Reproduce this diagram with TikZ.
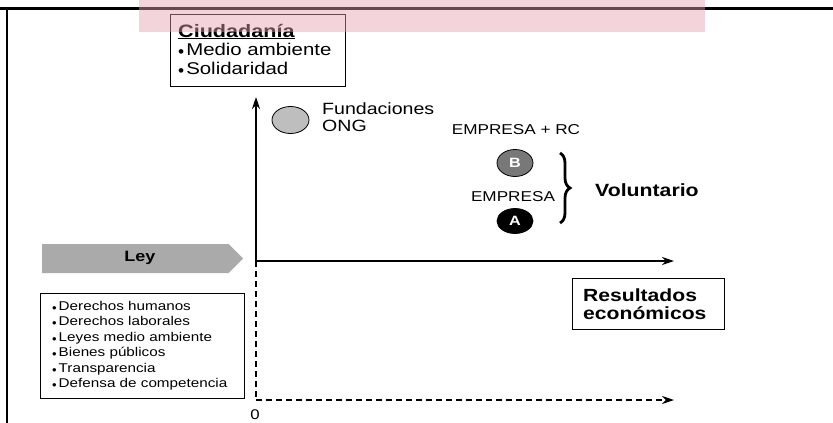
\documentclass[tikz,border=0pt]{standalone}
\usepackage{fontspec}
\setmainfont[FakeStretch=1.2]{Liberation Sans}
\usepackage{graphicx}
\usetikzlibrary{arrows.meta,shapes.arrows,shapes.geometric,decorations.pathreplacing}
\definecolor{bandpink}{RGB}{226,160,172}
\definecolor{leygray}{RGB}{170,170,170}
\definecolor{fundgray}{RGB}{190,190,190}
\definecolor{bgray}{RGB}{120,120,120}
\newcommand{\bul}{\raisebox{-0.3ex}{\scalebox{0.85}[1]{•}}\kern2pt}
\tikzset{
  axis/.style={line width=1.6pt,-{Stealth[length=12pt,width=8pt]}},
  daxis/.style={line width=1.6pt,dash pattern=on 6pt off 4pt,-{Stealth[length=12pt,width=8pt]}},
  infobox/.style={draw,line width=0.8pt,inner sep=0pt},
  dot/.style={ellipse,draw,line width=0.8pt,minimum width=36pt,minimum height=27pt,inner sep=0pt},
  lbl/.style={inner sep=0pt,font=\fontsize{14}{16}\selectfont}
}
\begin{document}
\begin{tikzpicture}[x=1pt,y=-1pt]
\useasboundingbox (0,0) rectangle (833,423);
% frame
\draw[line width=2.8pt] (0,8.5) -- (833,8.5);
\draw[line width=2.8pt] (7,8.5) -- (7,423);

% Ciudadania box
\node[infobox,minimum width=175pt,minimum height=72pt] (ciud) at (257.5,50) {};
\node[anchor=base west,lbl,font=\bfseries\fontsize{18}{20}\selectfont] (ciudt) at (178,37) {\underline{Ciudadanía}};
\node[anchor=base west,lbl,font=\fontsize{17}{19}\selectfont] (ciud1) at (178,55) {\bul Medio ambiente};
\node[anchor=base west,lbl,font=\fontsize{17}{19}\selectfont] (ciud2) at (178,74) {\bul Solidaridad};

% axes
\coordinate (o) at (256,261);
\coordinate (ytop) at (256,97);
\coordinate (xend) at (674,261);
\coordinate (obot) at (256,400);
\coordinate (xdend) at (674,400);
\draw[axis] (o) -- (ytop);
\draw[axis] (o) -- (xend);
\draw[line width=1.6pt,dash pattern=on 6pt off 4pt] (o) -- (obot);
\draw[daxis] (obot) -- (xdend);
\node[lbl,font=\fontsize{14}{16}\selectfont] (zero) at (255,415) {0};

% Ley arrow
\node[single arrow,fill=leygray,minimum height=201pt,minimum width=29pt,
      single arrow head extend=0pt,single arrow head indent=0pt,
      inner sep=0pt,anchor=west] (ley) at (42,258.5) {};
\node[lbl,font=\bfseries\fontsize{15}{17}\selectfont] (leyt) at (140,258) {Ley};

% law box
\node[infobox,minimum width=204pt,minimum height=105pt] (leyes) at (142,345.5) {};
\begin{scope}[every node/.style={anchor=base west,lbl,font=\fontsize{12.7}{14}\selectfont}]
\node (l1) at (52,310) {\bul Derechos humanos};
\node (l2) at (52,325.5) {\bul Derechos laborales};
\node (l3) at (52,341) {\bul Leyes medio ambiente};
\node (l4) at (52,356.5) {\bul Bienes públicos};
\node (l5) at (52,372) {\bul Transparencia};
\node (l6) at (52,387.5) {\bul Defensa de competencia};
\end{scope}

% Fundaciones
\node[dot,fill=fundgray,minimum width=37pt,minimum height=27pt] (fund) at (290.5,120) {};
\node[anchor=west,lbl,font=\fontsize{16.3}{17.5}\selectfont,align=left] (fundt) at (322,117) {Fundaciones\\ONG};

% Empresa B and A
\node[lbl,font=\fontsize{14.3}{16}\selectfont] (erc) at (516,130) {EMPRESA + RC};
\node[dot,fill=bgray,text=white,font=\bfseries\fontsize{13.5}{15}\selectfont] (b) at (515,163) {B};
\node[lbl,font=\fontsize{14.3}{16}\selectfont] (emp) at (513,197) {EMPRESA};
\node[dot,fill=black,text=white,minimum height=25pt,font=\bfseries\fontsize{13.5}{15}\selectfont] (a) at (515,221) {A};

% brace
\coordinate (br1) at (560,153);
\coordinate (br2) at (560,223);
\draw[line width=2.8pt,decorate,decoration={brace,amplitude=10pt}] (br1) -- (br2);
\node[anchor=west,lbl,font=\bfseries\fontsize{17.7}{19}\selectfont] (vol) at (595,190) {Voluntario};

% Resultados box
\node[infobox,minimum width=152pt,minimum height=51pt] (res) at (648,303.5) {};
\node[anchor=west,lbl,font=\bfseries\fontsize{17.6}{18.5}\selectfont,align=left] (rest) at (583,304) {Resultados\\económicos};

% translucent band at the top
\fill[bandpink,opacity=0.45] (139,0) rectangle (705,32);
\end{tikzpicture}
\end{document}
